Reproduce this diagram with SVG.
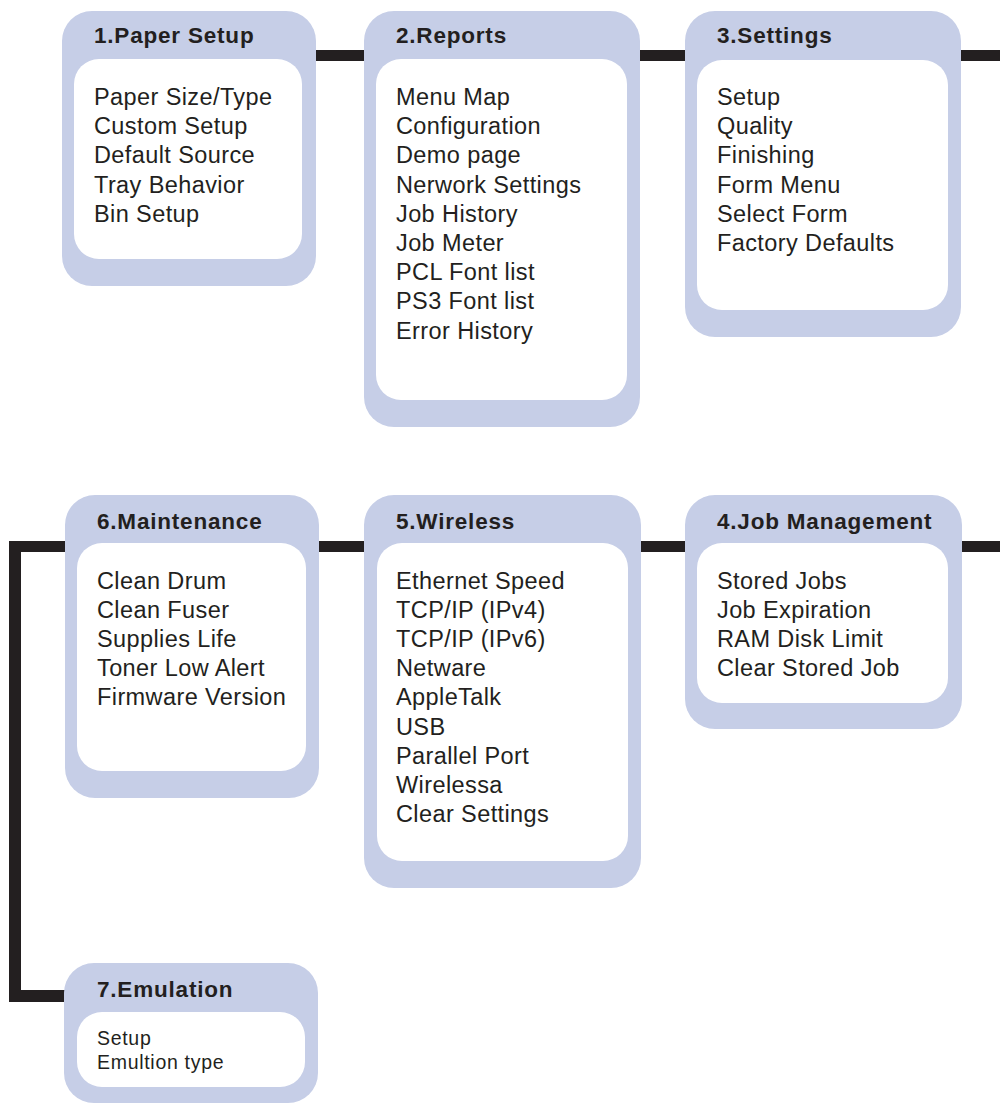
<svg xmlns="http://www.w3.org/2000/svg" width="1000" height="1108" viewBox="0 0 1000 1108">
<style>
.outer{fill:#c6cee7}
.inner{fill:#ffffff}
.title{font-family:"Liberation Sans",Arial,sans-serif;font-weight:bold;font-size:22.5px;letter-spacing:0.8px;fill:#231f20}
.item{font-family:"Liberation Sans",Arial,sans-serif;font-size:23.5px;letter-spacing:0.4px;fill:#231f20}
.small{font-family:"Liberation Sans",Arial,sans-serif;font-size:19.5px;letter-spacing:0.7px;fill:#231f20}
.conn{fill:#231f20}
</style>
<rect width="1000" height="1108" fill="#ffffff"/>
<g id="connectors">
<rect class="conn" x="310" y="50" width="60" height="11"/>
<rect class="conn" x="634" y="50" width="56" height="11"/>
<rect class="conn" x="955" y="50" width="45" height="11"/>
<rect class="conn" x="313" y="541" width="57" height="11"/>
<rect class="conn" x="634" y="541" width="56" height="11"/>
<rect class="conn" x="955" y="541" width="45" height="11"/>
<rect class="conn" x="9" y="541" width="62" height="11"/>
<rect class="conn" x="9" y="541" width="12" height="461"/>
<rect class="conn" x="9" y="990" width="60" height="12"/>
</g>
<g id="node1">
<rect class="outer" x="62" y="11" width="254" height="275" rx="30"/>
<rect class="inner" x="74" y="59" width="228" height="200" rx="25"/>
<text class="title" x="94" y="43">1.Paper Setup</text>
<text class="item" x="94" y="105">Paper Size/Type</text>
<text class="item" x="94" y="134.2">Custom Setup</text>
<text class="item" x="94" y="163.4">Default Source</text>
<text class="item" x="94" y="192.6">Tray Behavior</text>
<text class="item" x="94" y="221.8">Bin Setup</text>
</g>
<g id="node2">
<rect class="outer" x="364" y="11" width="276" height="416" rx="30"/>
<rect class="inner" x="376" y="59" width="251" height="341" rx="25"/>
<text class="title" x="396" y="43">2.Reports</text>
<text class="item" x="396" y="105">Menu Map</text>
<text class="item" x="396" y="134.2">Configuration</text>
<text class="item" x="396" y="163.4">Demo page</text>
<text class="item" x="396" y="192.6">Nerwork Settings</text>
<text class="item" x="396" y="221.8">Job History</text>
<text class="item" x="396" y="251">Job Meter</text>
<text class="item" x="396" y="280.2">PCL Font list</text>
<text class="item" x="396" y="309.4">PS3 Font list</text>
<text class="item" x="396" y="338.6">Error History</text>
</g>
<g id="node3">
<rect class="outer" x="685" y="11" width="276" height="326" rx="30"/>
<rect class="inner" x="697" y="60" width="251" height="250" rx="25"/>
<text class="title" x="717" y="43">3.Settings</text>
<text class="item" x="717" y="105">Setup</text>
<text class="item" x="717" y="134.2">Quality</text>
<text class="item" x="717" y="163.4">Finishing</text>
<text class="item" x="717" y="192.6">Form Menu</text>
<text class="item" x="717" y="221.8">Select Form</text>
<text class="item" x="717" y="251">Factory Defaults</text>
</g>
<g id="node4">
<rect class="outer" x="685" y="495" width="277" height="234" rx="30"/>
<rect class="inner" x="697" y="543" width="251" height="160" rx="25"/>
<text class="title" x="717" y="529">4.Job Management</text>
<text class="item" x="717" y="588.5">Stored Jobs</text>
<text class="item" x="717" y="617.7">Job Expiration</text>
<text class="item" x="717" y="646.9">RAM Disk Limit</text>
<text class="item" x="717" y="676.1">Clear Stored Job</text>
</g>
<g id="node5">
<rect class="outer" x="364" y="495" width="277" height="393" rx="30"/>
<rect class="inner" x="377" y="543" width="251" height="318" rx="25"/>
<text class="title" x="396" y="529">5.Wireless</text>
<text class="item" x="396" y="588.5">Ethernet Speed</text>
<text class="item" x="396" y="617.7">TCP/IP (IPv4)</text>
<text class="item" x="396" y="646.9">TCP/IP (IPv6)</text>
<text class="item" x="396" y="676.1">Netware</text>
<text class="item" x="396" y="705.3">AppleTalk</text>
<text class="item" x="396" y="734.5">USB</text>
<text class="item" x="396" y="763.7">Parallel Port</text>
<text class="item" x="396" y="792.9">Wirelessa</text>
<text class="item" x="396" y="822.1">Clear Settings</text>
</g>
<g id="node6">
<rect class="outer" x="65" y="495" width="254" height="303" rx="30"/>
<rect class="inner" x="77" y="543" width="229" height="228" rx="25"/>
<text class="title" x="97" y="529">6.Maintenance</text>
<text class="item" x="97" y="588.5">Clean Drum</text>
<text class="item" x="97" y="617.7">Clean Fuser</text>
<text class="item" x="97" y="646.9">Supplies Life</text>
<text class="item" x="97" y="676.1">Toner Low Alert</text>
<text class="item" x="97" y="705.3">Firmware Version</text>
</g>
<g id="node7">
<rect class="outer" x="64" y="963" width="254" height="140" rx="30"/>
<rect class="inner" x="77" y="1012" width="228" height="75" rx="25"/>
<text class="title" x="97" y="997">7.Emulation</text>
<text class="small" x="97" y="1044.5">Setup</text>
<text class="small" x="97" y="1068.5">Emultion type</text>
</g>
</svg>
